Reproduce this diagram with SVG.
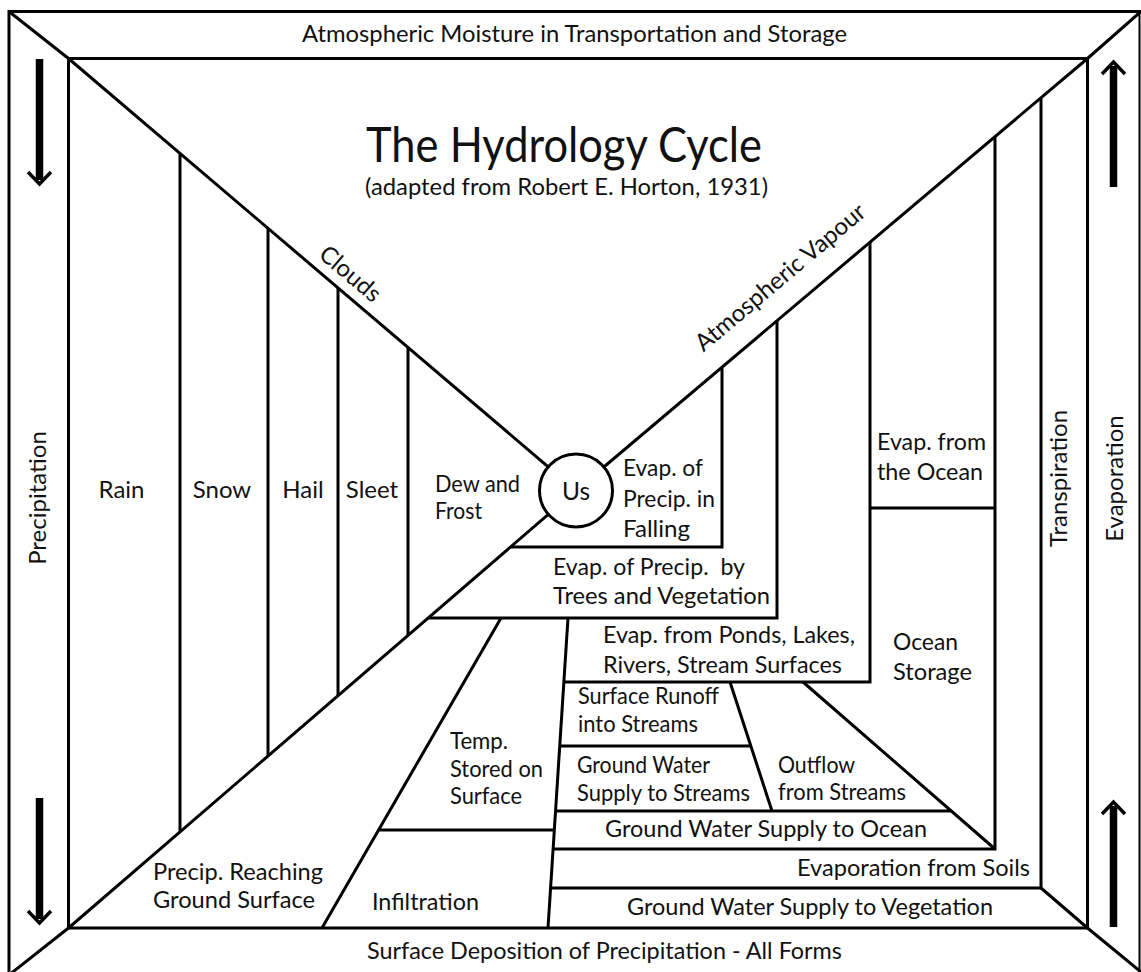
<svg xmlns="http://www.w3.org/2000/svg" width="1141" height="972" viewBox="0 0 1141 972">
<style>
.ln{stroke:#000;stroke-width:3;fill:none;stroke-linecap:butt;stroke-linejoin:miter}
.t{font-family:Lato,"Open Sans","Liberation Sans",sans-serif;font-size:24px;fill:#111}
.m{text-anchor:middle}
</style>
<defs>
<g id="arrow">
<path d="M0,-125 V-4" stroke="#000" stroke-width="7.5" fill="none"/>
<path d="M-11.5,-12 L0,0 L11.5,-12" stroke="#000" stroke-width="3.5" fill="none" stroke-linejoin="miter"/>
</g>
</defs>
<rect width="1141" height="972" fill="#fff"/>

<g id="frame" class="ln">
<path d="M9,975 V11.5 H1141"/>
<path d="M1139.5,11.5 V972" stroke-width="2"/>
<rect x="68.5" y="58.5" width="1019" height="869.5"/>
<path d="M9,11.5 L68.5,58.5"/>
<path d="M1141,11.5 L1087.5,58.5"/>
<path d="M9,975 L68.5,928"/>
<path d="M1041,888 L1087.5,928 L1141,972"/>
</g>

<g id="connectors" class="ln">
<line x1="68.5" y1="58.5" x2="576" y2="490.5"/>
<line x1="1087.5" y1="58.5" x2="576" y2="490.5"/>
<line x1="68.5" y1="928" x2="576" y2="490.5"/>
<path d="M180,153.4V831.9 M268,228.3V756 M338,287.9V695.7 M408,347.5V635.4"/>
<path d="M722,367.3V547H510.5 M777,320.8V618H428 M870,242.3V682H563.9 M995,136.7V849H553.1 M1041,97.8V888H550.6 M870,508H995"/>
<path d="M568,618L548,928"/>
<path d="M559.7,746H750.8 M555.5,811H951.3 M730,682L772,811 M803,682L995,849"/>
<path d="M501,618L322,928 M378.6,830H554.3"/>
</g>

<g id="arrows">
<use href="#arrow" transform="translate(39.5,184)"/>
<use href="#arrow" transform="translate(39.5,923)"/>
<use href="#arrow" transform="translate(1113.5,62) rotate(180)"/>
<use href="#arrow" transform="translate(1113.5,802) rotate(180)"/>
</g>

<g id="us">
<circle cx="576" cy="490.5" r="36.5" fill="#fff" stroke="#000" stroke-width="3"/>
<text class="t m" x="576" y="500" style="font-size:24.5px">Us</text>
</g>

<g id="header"><text class="t" x="302" y="42" textLength="545" lengthAdjust="spacingAndGlyphs">Atmospheric Moisture in Transportation and Storage</text></g>
<g id="title">
<text class="t" x="366" y="162" style="font-size:49px" textLength="396" lengthAdjust="spacingAndGlyphs">The Hydrology Cycle</text>
<text class="t" x="365" y="195" style="font-size:24px" textLength="403" lengthAdjust="spacingAndGlyphs">(adapted from Robert E. Horton, 1931)</text>
</g>
<g id="footer"><text class="t" x="367" y="959" textLength="475" lengthAdjust="spacingAndGlyphs">Surface Deposition of Precipitation - All Forms</text></g>

<g id="precipitation"><text class="t m" transform="translate(46,498) rotate(-90)">Precipitation</text></g>
<g id="transpiration"><text class="t m" transform="translate(1067,478.5) rotate(-90)">Transpiration</text></g>
<g id="evaporation"><text class="t m" transform="translate(1123,478.5) rotate(-90)">Evaporation</text></g>
<g id="clouds"><text class="t m" transform="translate(345,280) rotate(40.4)">Clouds</text></g>
<g id="vapour"><text class="t m" transform="translate(785.5,283.5) rotate(-40.1)">Atmospheric Vapour</text></g>

<g id="rain"><text class="t m" x="121.5" y="498">Rain</text></g>
<g id="snow"><text class="t m" x="222" y="498">Snow</text></g>
<g id="hail"><text class="t m" x="303" y="498">Hail</text></g>
<g id="sleet"><text class="t m" x="372" y="498">Sleet</text></g>
<g id="dew">
<text class="t" x="435" y="492" textLength="85" lengthAdjust="spacingAndGlyphs">Dew and</text>
<text class="t" x="435" y="519" textLength="47" lengthAdjust="spacingAndGlyphs">Frost</text>
</g>
<g id="falling">
<text class="t" x="623" y="476" textLength="80" lengthAdjust="spacingAndGlyphs">Evap. of</text>
<text class="t" x="623" y="506.5" textLength="92" lengthAdjust="spacingAndGlyphs">Precip. in</text>
<text class="t" x="623" y="537" textLength="67" lengthAdjust="spacingAndGlyphs">Falling</text>
</g>
<g id="trees">
<text class="t" x="553" y="575" xml:space="preserve" textLength="192" lengthAdjust="spacingAndGlyphs">Evap. of Precip.  by</text>
<text class="t" x="553" y="604" textLength="217" lengthAdjust="spacingAndGlyphs">Trees and Vegetation</text>
</g>
<g id="ponds">
<text class="t" x="603" y="643" textLength="252" lengthAdjust="spacingAndGlyphs">Evap. from Ponds, Lakes,</text>
<text class="t" x="603" y="673" textLength="239" lengthAdjust="spacingAndGlyphs">Rivers, Stream Surfaces</text>
</g>
<g id="runoff">
<text class="t" x="578" y="704" textLength="141" lengthAdjust="spacingAndGlyphs">Surface Runoff</text>
<text class="t" x="578" y="732" textLength="120" lengthAdjust="spacingAndGlyphs">into Streams</text>
</g>
<g id="gwstreams">
<text class="t" x="577" y="773" textLength="133" lengthAdjust="spacingAndGlyphs">Ground Water</text>
<text class="t" x="577" y="801" textLength="173" lengthAdjust="spacingAndGlyphs">Supply to Streams</text>
</g>
<g id="outflow">
<text class="t" x="778" y="773" textLength="77" lengthAdjust="spacingAndGlyphs">Outflow</text>
<text class="t" x="778" y="800" textLength="128" lengthAdjust="spacingAndGlyphs">from Streams</text>
</g>
<g id="gwocean"><text class="t" x="605" y="837" textLength="322" lengthAdjust="spacingAndGlyphs">Ground Water Supply to Ocean</text></g>
<g id="soils"><text class="t" x="797" y="876" textLength="233" lengthAdjust="spacingAndGlyphs">Evaporation from Soils</text></g>
<g id="gwveg"><text class="t" x="627" y="915" textLength="366" lengthAdjust="spacingAndGlyphs">Ground Water Supply to Vegetation</text></g>
<g id="temp">
<text class="t" x="450" y="749" textLength="58" lengthAdjust="spacingAndGlyphs">Temp.</text>
<text class="t" x="450" y="777" textLength="93" lengthAdjust="spacingAndGlyphs">Stored on</text>
<text class="t" x="450" y="804" textLength="72" lengthAdjust="spacingAndGlyphs">Surface</text>
</g>
<g id="reaching">
<text class="t" x="153" y="880" textLength="170" lengthAdjust="spacingAndGlyphs">Precip. Reaching</text>
<text class="t" x="153" y="908" textLength="162" lengthAdjust="spacingAndGlyphs">Ground Surface</text>
</g>
<g id="infiltration"><text class="t" x="372" y="910" textLength="107" lengthAdjust="spacingAndGlyphs">Infiltration</text></g>
<g id="oceanevap">
<text class="t" x="877" y="450" textLength="109" lengthAdjust="spacingAndGlyphs">Evap. from</text>
<text class="t" x="877" y="480" textLength="106" lengthAdjust="spacingAndGlyphs">the Ocean</text>
</g>
<g id="oceanstorage">
<text class="t" x="893" y="650" textLength="65" lengthAdjust="spacingAndGlyphs">Ocean</text>
<text class="t" x="893" y="680" textLength="79" lengthAdjust="spacingAndGlyphs">Storage</text>
</g>
</svg>
